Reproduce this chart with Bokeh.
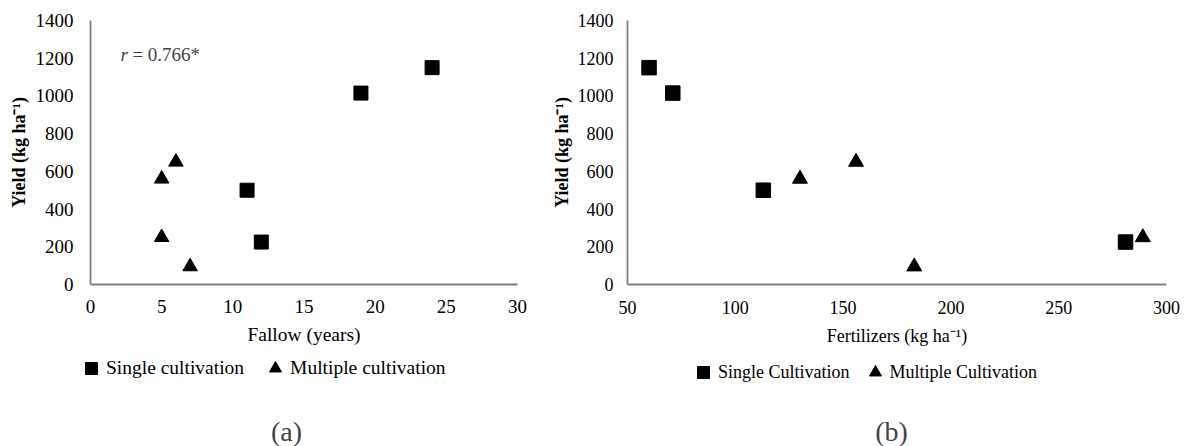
from bokeh.plotting import figure
from bokeh.layouts import row, column
from bokeh.models import Range1d, FixedTicker, Legend, LegendItem, Label
from bokeh.embed import file_html
from bokeh.resources import INLINE

# ---- data ----
yield_single = [1150, 1015, 500, 225]
yield_multi = [560, 650, 95, 250]
fallow_single = [24, 19, 11, 12]
fallow_multi = [5, 6, 7, 5]
fert_single = [60, 71, 113, 281]
fert_multi = [130, 156, 183, 289]

fallow_ticks = [0, 5, 10, 15, 20, 25, 30]
fert_ticks = [50, 100, 150, 200, 250, 300]
yield_ticks = [0, 200, 400, 600, 800, 1000, 1200, 1400]

FONT = "Liberation Serif"
AXIS_COLOR = "#808080"


def style_axes(p, tick_fs, xlab_fs, ylab_fs, y_std, x_std, ylab_std, xlab_std):
    for ax in (p.xaxis[0], p.yaxis[0]):
        ax.axis_line_color = AXIS_COLOR
        ax.axis_line_width = 1.8
        ax.major_tick_line_color = None
        ax.minor_tick_line_color = None
        ax.major_tick_out = 0
        ax.major_tick_in = 0
        ax.minor_tick_out = 0
        ax.major_label_text_font = FONT
        ax.major_label_text_font_size = tick_fs
        ax.major_label_text_color = "black"
        ax.axis_label_text_font = FONT
        ax.axis_label_text_color = "black"
    p.yaxis[0].major_label_standoff = y_std
    p.xaxis[0].major_label_standoff = x_std
    p.yaxis[0].axis_label_standoff = ylab_std
    p.xaxis[0].axis_label_standoff = xlab_std
    p.yaxis[0].axis_label_text_font_style = "bold"
    p.xaxis[0].axis_label_text_font_style = "normal"
    p.yaxis[0].axis_label_text_font_size = ylab_fs
    p.xaxis[0].axis_label_text_font_size = xlab_fs
    p.grid.visible = False
    p.outline_line_color = None


def blank_fig(width, height):
    # strip that only carries the legend and the panel caption
    f = figure(width=width, height=height, output_backend="svg", toolbar_location=None,
               x_range=Range1d(-2, -1), y_range=Range1d(-2, -1),
               x_axis_type=None, y_axis_type=None,
               min_border_left=0, min_border_right=0, min_border_top=0, min_border_bottom=0)
    f.grid.visible = False
    f.outline_line_color = None
    return f


def legend_for(items, loc, spacing, fs):
    return Legend(items=items, location=loc, orientation="horizontal",
                  glyph_width=30, glyph_height=30, label_standoff=0, spacing=spacing,
                  padding=0, margin=0, border_line_color=None, background_fill_alpha=0,
                  label_text_font=FONT, label_text_font_size=fs, label_text_color="black",
                  label_height=30)


# ---- panel (a) ----
fa = figure(width=538, height=354, output_backend="svg", toolbar_location=None,
            x_range=Range1d(0, 30), y_range=Range1d(0, 1400),
            min_border_left=90, min_border_right=21, min_border_top=18, min_border_bottom=70,
            x_axis_label="Fallow (years)", y_axis_label="Yield (kg ha⁻¹)")
fa.xaxis.ticker = FixedTicker(ticks=fallow_ticks)
fa.yaxis.ticker = FixedTicker(ticks=yield_ticks)
style_axes(fa, "19px", "19.5px", "18px", 17, 15, 4, 8)

fa.scatter(fallow_single, yield_single, marker="square", size=14, color="black")
fa.scatter(fallow_multi, yield_multi, marker="triangle", size=14.5, color="black")

fa.add_layout(Label(x=2.1, y=1221, text="r", text_font=FONT, text_font_style="italic",
                    text_font_size="19px", text_baseline="middle", text_align="left"))
fa.add_layout(Label(x=2.1, y=1221, x_offset=12, text="= 0.766*", text_font=FONT,
                    text_font_size="19px", text_baseline="middle", text_align="left"))

# legend / caption strip under (a); its range keeps the series' own points out of view
la = blank_fig(538, 92)
pa_s = la.scatter(fallow_single, yield_single, marker="square", color="black")
pa_m = la.scatter(fallow_multi, yield_multi, marker="triangle", color="black")
la.add_layout(legend_for([LegendItem(label="Single cultivation", renderers=[pa_s]),
                          LegendItem(label="Multiple cultivation", renderers=[pa_m])],
                         (76, 63), 16, "19.5px"))
la.add_layout(Label(x=286, y=15, x_units="screen", y_units="screen", text="(a)",
                    text_font=FONT, text_font_size="28px", text_align="center",
                    text_baseline="middle"))

# ---- panel (b) ----
fb = figure(width=647, height=354, output_backend="svg", toolbar_location=None,
            x_range=Range1d(50, 300), y_range=Range1d(0, 1400),
            min_border_left=89, min_border_right=19, min_border_top=20, min_border_bottom=69,
            x_axis_label="Fertilizers (kg ha⁻¹)", y_axis_label="Yield (kg ha⁻¹)")
fb.xaxis.ticker = FixedTicker(ticks=fert_ticks)
fb.yaxis.ticker = FixedTicker(ticks=yield_ticks)
style_axes(fb, "18px", "18px", "18px", 14, 16, 3, 9)

fb.scatter(fert_single, yield_single, marker="square", size=14.5, color="black")
fb.scatter(fert_multi, yield_multi, marker="triangle", size=15, color="black")

lb = blank_fig(647, 92)
pb_s = lb.scatter(fert_single, yield_single, marker="square", color="black")
pb_m = lb.scatter(fert_multi, yield_multi, marker="triangle", color="black")
lb.add_layout(legend_for([LegendItem(label="Single Cultivation", renderers=[pb_s]),
                          LegendItem(label="Multiple Cultivation", renderers=[pb_m])],
                         (150, 59), 10, "18px"))
lb.add_layout(Label(x=353, y=15, x_units="screen", y_units="screen", text="(b)",
                    text_font=FONT, text_font_size="28px", text_align="center",
                    text_baseline="middle"))

layout = column(row(fa, fb), row(la, lb))
open("out.html", "w").write(file_html(layout, INLINE))
